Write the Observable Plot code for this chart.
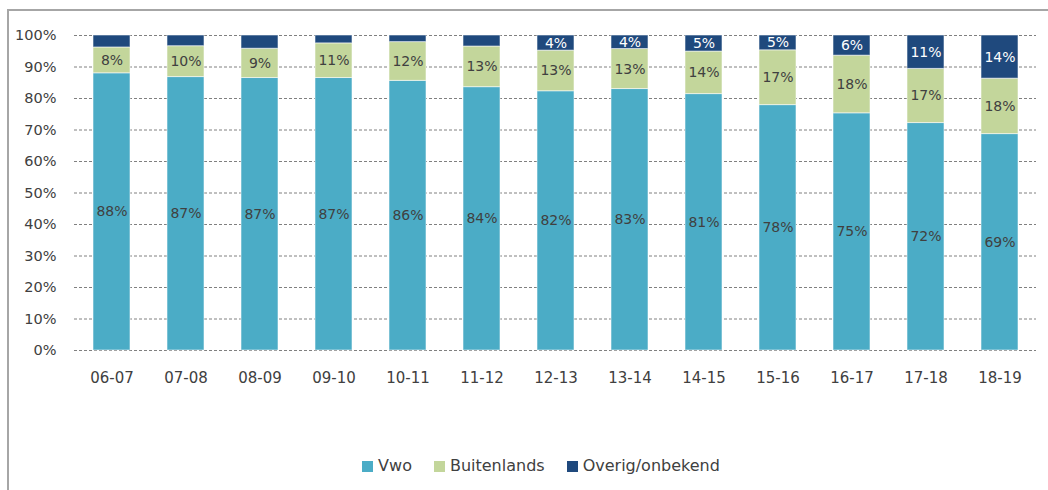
<!DOCTYPE html>
<html>
<head>
<meta charset="utf-8">
<script src="https://cdn.jsdelivr.net/npm/d3@7"></script>
<script src="https://cdn.jsdelivr.net/npm/@observablehq/plot@0.6"></script>
<style>
  html, body { margin: 0; padding: 0; background: #fff; }
  #wrap { position: relative; width: 1048px; height: 490px; overflow: hidden; font-family: "DejaVu Sans", sans-serif; }
  #frame { position: absolute; left: 7px; top: 9px; width: 1100px; height: 520px; border-left: 2px solid #a6a6a6; border-top: 2px solid #a6a6a6; box-sizing: border-box; }
  #chart { position: absolute; left: 0; top: 0; }
  #legend { position: absolute; left: 0; top: 456px; width: 1048px; display: flex; justify-content: center; padding-left: 34px; box-sizing: border-box; font-size: 16px; color: #404040; line-height: 20px; }
  .item { display: flex; align-items: center; margin: 0 11px; }
  .sw { width: 11px; height: 11px; margin-right: 5px; }
</style>
</head>
<body>
<div id="wrap">
  <div id="frame"></div>
  <div id="chart"></div>
  <div id="legend"></div>
</div>
<script>
const years = ["06-07","07-08","08-09","09-10","10-11","11-12","12-13","13-14","14-15","15-16","16-17","17-18","18-19"];
const seriesNames = ["Vwo", "Buitenlands", "Overig/onbekend"];
const colors = ["#4bacc6", "#c3d69b", "#1f497d"];
const vwo =         [88.0, 86.8, 86.5, 86.5, 85.6, 83.6, 82.3, 83.0, 81.4, 77.9, 75.3, 72.2, 68.7];
const buitenlands = [ 8.2,  9.8,  9.3, 11.0, 12.3, 12.9, 12.9, 12.7, 13.5, 17.4, 18.3, 17.2, 17.6];
const overig =      [ 3.8,  3.4,  4.2,  2.5,  2.1,  3.5,  4.8,  4.3,  5.1,  4.7,  6.4, 10.6, 13.7];
const vwoLabels =   ["88%","87%","87%","87%","86%","84%","82%","83%","81%","78%","75%","72%","69%"];
const buitLabels =  ["8%","10%","9%","11%","12%","13%","13%","13%","14%","17%","18%","17%","18%"];
const overigLabels = ["","","","","","","4%","4%","5%","5%","6%","11%","14%"];
const yTicks = [0,10,20,30,40,50,60,70,80,90,100];

const seriesValues = [vwo, buitenlands, overig];
const seriesLabels = [vwoLabels, buitLabels, overigLabels];
const labelColors = ["#404040", "#404040", "#ffffff"];

const data = [];
years.forEach((yr, i) => {
  seriesNames.forEach((s, k) => {
    data.push({year: yr, series: s, value: seriesValues[k][i], label: seriesLabels[k][i], lc: labelColors[k]});
  });
});

const chart = Plot.plot({
  width: 1048,
  height: 420,
  marginTop: 35,
  marginBottom: 70,
  marginLeft: 74,
  marginRight: 12,
  style: {fontFamily: "DejaVu Sans, sans-serif", color: "#404040", background: "transparent"},
  x: {domain: years, paddingInner: 0.5, paddingOuter: 0.25, label: null},
  y: {domain: [0, 100], label: null},
  color: {domain: seriesNames, range: colors},
  marks: [
    Plot.ruleY(yTicks, {stroke: "#808080", strokeWidth: 1, strokeDasharray: "3,2"}),
    Plot.barY(data, Plot.stackY({x: "year", y: "value", z: "series", fill: "series", stroke: "#ffffff", strokeOpacity: 0.55, strokeWidth: 1})),
    Plot.text(data, Plot.stackY({x: "year", y: "value", z: "series", text: "label", fill: "lc", fontSize: 14})),
    Plot.axisY({ticks: yTicks, tickSize: 0, tickPadding: 18, tickFormat: d => d + "%", fontSize: 14.5}),
    Plot.axisX({tickSize: 0, tickPadding: 22, fontSize: 15})
  ]
});
document.getElementById("chart").appendChild(chart);

const legend = document.getElementById("legend");
seriesNames.forEach((s, k) => {
  const it = document.createElement("div");
  it.className = "item";
  const sw = document.createElement("span");
  sw.className = "sw";
  sw.style.background = colors[k];
  const t = document.createElement("span");
  t.textContent = s;
  it.appendChild(sw);
  it.appendChild(t);
  legend.appendChild(it);
});
</script>
</body>
</html>
